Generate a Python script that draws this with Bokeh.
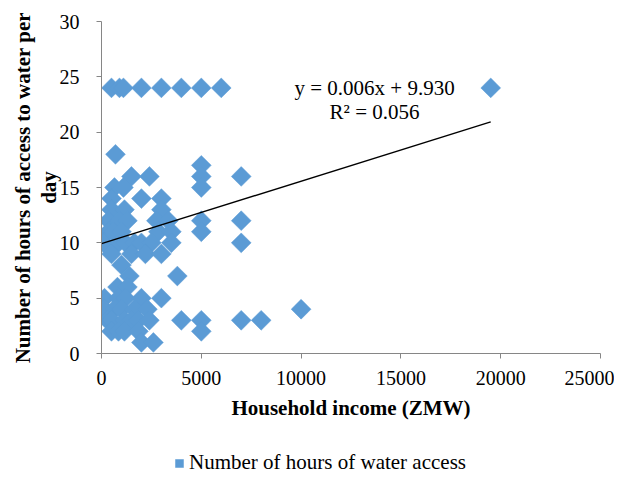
import math
from bokeh.plotting import figure
from bokeh.layouts import column
from bokeh.models import Range1d, FixedTicker, Legend, LegendItem, Label
from bokeh.embed import file_html
from bokeh.resources import INLINE

# Household income (ZMW) and hours of water access per day
income = [500, 900, 1100, 2000, 3000, 4000, 5000, 6000, 19500,
          700,
          1500, 2400, 5000, 5000, 5000, 7000,
          650, 1100,
          500, 2000, 3000,
          500, 1150, 3000,
          350, 900, 1300, 2750, 3350, 5000, 7000,
          350, 600, 1000, 2850, 3500, 5000,
          100, 850, 1200, 1650, 2000, 2500, 3500, 7000,
          500, 1500, 2200, 3000,
          1000, 1400, 3800, 800, 1300,
          150, 850, 1200, 2000, 3000,
          150, 650, 1000, 1650, 2300, 10000,
          300, 500, 1150, 1500, 1850, 2400, 4000, 5000, 7000, 8000,
          500, 850, 1150, 1850, 5000,
          2000, 2600]
hours = [24, 24, 24, 24, 24, 24, 24, 24, 24,
         18,
         16, 16, 17, 16, 15, 16,
         15, 15,
         14, 14, 14,
         13, 13, 13,
         12, 12, 12, 12, 12, 12, 12,
         11, 11, 11, 11, 11, 11,
         10, 10, 10, 10, 10, 10, 10, 10,
         9, 9, 9, 9,
         8, 7, 7, 6, 6,
         5, 5, 5, 5, 5,
         4, 4, 4, 4, 4, 4,
         3, 3, 3, 3, 3, 3, 3, 3, 3, 3,
         2, 2, 2, 2, 2,
         1, 1]

trend_income = [0, 19500]
trend_hours = [9.93, 20.93]

x_ticks = [0, 5000, 10000, 15000, 20000, 25000]
y_ticks = [0, 5, 10, 15, 20, 25, 30]

equation_text = "y = 0.006x + 9.930"
r2_text = "R\u00b2 = 0.056"
legend_text = "Number of hours of water access"
x_title = "Household income (ZMW)"
y_title = "Number of hours of access to water per\nday"

FONT = "Liberation Serif"
BLUE = "#5B9BD5"
GRAY = "#868686"

p = figure(width=614, height=422, output_backend="svg", toolbar_location=None,
           x_range=Range1d(0, 25000), y_range=Range1d(0, 30),
           min_border_left=101, min_border_right=14, min_border_top=21,
           min_border_bottom=40)

r = p.scatter(income, hours, marker="square", size=14, angle=math.pi / 4,
              fill_color=BLUE, line_color=BLUE, line_width=0.5)
p.line(trend_income, trend_hours, line_color="black", line_width=1.5)

p.add_layout(Label(x=13680, y=24.0, text=equation_text, text_align="center",
                   text_baseline="middle", text_font=FONT, text_font_size="21px",
                   text_color="black"))
p.add_layout(Label(x=13680, y=21.8, text=r2_text, text_align="center",
                   text_baseline="middle", text_font=FONT, text_font_size="21px",
                   text_color="black"))

p.xgrid.visible = False
p.ygrid.visible = False
p.outline_line_color = None

p.xaxis.ticker = FixedTicker(ticks=x_ticks)
p.yaxis.ticker = FixedTicker(ticks=y_ticks)
for ax in (p.xaxis, p.yaxis):
    ax.axis_line_color = GRAY
    ax.major_tick_line_color = GRAY
    ax.minor_tick_line_color = None
    ax.major_tick_in = 0
    ax.major_tick_out = 5
    ax.major_label_text_font = FONT
    ax.major_label_text_font_size = "20px"
    ax.major_label_text_color = "black"
    ax.axis_label_text_font = FONT
    ax.axis_label_text_font_size = "21px"
    ax.axis_label_text_font_style = "bold"
    ax.axis_label_text_color = "black"

p.xaxis.axis_label = x_title
p.xaxis.major_label_standoff = 12
p.xaxis.axis_label_standoff = 8
p.yaxis.axis_label = y_title
p.yaxis.major_label_standoff = 17
p.yaxis.axis_label_standoff = -4
p.yaxis.axis_label_text_line_height = 1.05

# legend strip below the chart (same data, kept out of view; only the key shows)
lg = figure(width=614, height=53, output_backend="svg", toolbar_location=None,
            x_range=Range1d(0, 1), y_range=Range1d(0, 1),
            x_axis_type=None, y_axis_type=None,
            min_border_left=0, min_border_right=0, min_border_top=0,
            min_border_bottom=0)
lg.xgrid.visible = False
lg.ygrid.visible = False
lg.outline_line_color = None
lr = lg.scatter(income, hours, marker="square", size=14, angle=math.pi / 4,
                fill_color=BLUE, line_color=BLUE, line_width=0.5)
legend = Legend(items=[LegendItem(label=legend_text, renderers=[lr])],
                location=(68, 0), orientation="horizontal",
                border_line_color=None, background_fill_alpha=0,
                label_text_font=FONT, label_text_font_size="21px",
                label_text_color="black",
                glyph_width=20, glyph_height=20, padding=0, margin=0,
                spacing=0, label_standoff=0)
lg.add_layout(legend)

layout = column(p, lg, spacing=0)
open("out.html", "w").write(file_html(layout, INLINE))
